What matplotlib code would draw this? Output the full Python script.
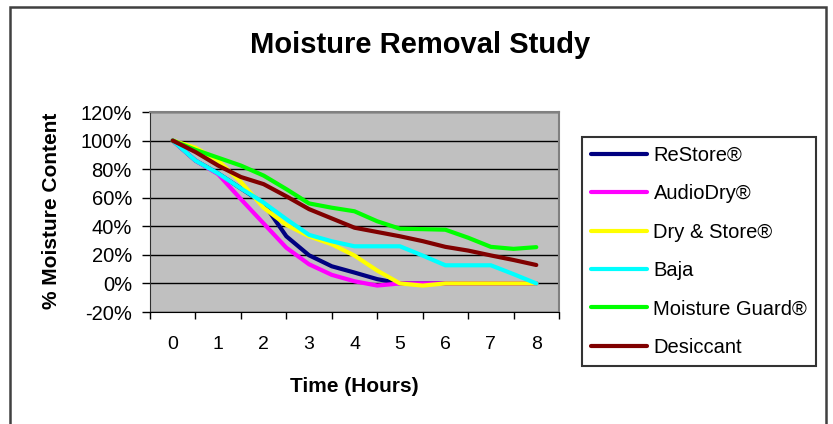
import numpy as np
import matplotlib
matplotlib.use("Agg")
import matplotlib.pyplot as plt
import matplotlib.patches as patches

plt.rcParams['font.family'] = ['Liberation Sans', 'DejaVu Sans']

# half-hour readings, % moisture remaining
hours = [0, 0.5, 1, 1.5, 2, 2.5, 3, 3.5, 4, 4.5, 5, 5.5, 6, 6.5, 7, 7.5, 8]
restore = [100, 86, 77, 66.5, 56, 33, 19.7, 12, 7.6, 3, 0, 0, 0, 0, 0, 0, 0]
audiodry = [100, 86, 76.5, 59, 42, 25, 13.4, 6, 1.5, -1.5, 0, 0, 0, 0, 0, 0, 0]
dry_store = [100, 95, 86, 71, 53, 41, 33, 27.4, 19.5, 9, 0, -1.5, 0, 0, 0, 0, 0]
baja = [100, 86, 77, 66.5, 56.6, 45, 34, 29.5, 26, 26, 26, 19.5, 12.7, 12.7, 12.7, 6.5, 0]
moisture_guard = [100, 93.5, 88, 82.5, 75.5, 66, 56, 53, 50.5, 43.5, 38.3, 38, 37.6, 32, 25.6, 24.2, 25.4]
desiccant = [100, 92, 82.5, 74.5, 69.5, 61, 52, 45.5, 39, 36, 33, 29.6, 25.6, 23, 19.6, 16.4, 12.9]

series_names = ['ReStore®', 'AudioDry®', 'Dry & Store®', 'Baja', 'Moisture Guard®', 'Desiccant']
series_colors = ['#000080', '#FF00FF', '#FFFF00', '#00FFFF', '#00FF00', '#800000']
series_values = [restore, audiodry, dry_store, baja, moisture_guard, desiccant]

x_labels = ['0', '1', '2', '3', '4', '5', '6', '7', '8']
y_ticks = [-20, 0, 20, 40, 60, 80, 100, 120]

W, H = 833, 424
fig = plt.figure(figsize=(W / 100, H / 100), dpi=100)
fig.patch.set_facecolor('white')

# outer chart frame (runs off the bottom edge like the source)
frame = patches.Rectangle((10 / W, -0.05), 816 / W, 1 - 7 / H + 0.05,
                          transform=fig.transFigure, fill=False,
                          edgecolor='#404040', linewidth=1.8)
fig.patches.append(frame)

ax = fig.add_axes([150 / W, 1 - 312 / H, 409 / W, 200 / H])
ax.set_facecolor('#C0C0C0')

for vals, col, name in zip(series_values, series_colors, series_names):
    ax.plot(hours, vals, color=col, linewidth=3, label=name,
            solid_joinstyle='round', solid_capstyle='round', zorder=3)

ax.set_xlim(-0.5, 8.5)
ax.set_ylim(-20, 120)

ax.set_yticks(y_ticks)
ax.set_yticklabels([f'{v}%' for v in y_ticks])
ax.yaxis.grid(True, color='black', linewidth=1)
ax.set_axisbelow(True)

ax.set_xticks(range(len(x_labels)))
ax.set_xticklabels(x_labels)
ax.set_xticks(np.arange(-0.5, 9, 1), minor=True)
ax.tick_params(axis='x', which='major', length=0, pad=17, labelsize=14)
ax.tick_params(axis='x', which='minor', length=5, width=1, direction='out')
ax.tick_params(axis='y', length=6, width=1, pad=7, labelsize=14.5)

for side in ['top', 'right']:
    ax.spines[side].set_color('#808080')
    ax.spines[side].set_linewidth(1.5)
ax.spines['left'].set_color('#303030')
ax.spines['bottom'].set_color('black')

fig.text(420 / W, 1 - 45 / H, 'Moisture Removal Study', ha='center', va='center',
         fontsize=21, fontweight='bold')
fig.text(52 / W, 1 - 211 / H, '% Moisture Content', rotation=90, ha='center',
         va='center', fontsize=15, fontweight='bold')
fig.text(354 / W, 1 - 387 / H, 'Time (Hours)', ha='center', va='center',
         fontsize=15, fontweight='bold')

leg = fig.legend(loc='upper left', bbox_to_anchor=(582 / W, 1 - 137 / H),
                 fontsize=14.5, frameon=True, fancybox=False, handlelength=2.8,
                 handletextpad=0.3, labelspacing=0.96, borderpad=0.45,
                 borderaxespad=0)
leg.get_frame().set_edgecolor('black')
leg.get_frame().set_linewidth(1.5)
for line in leg.get_lines():
    line.set_linewidth(3)

fig.savefig('out.png', dpi=100)
